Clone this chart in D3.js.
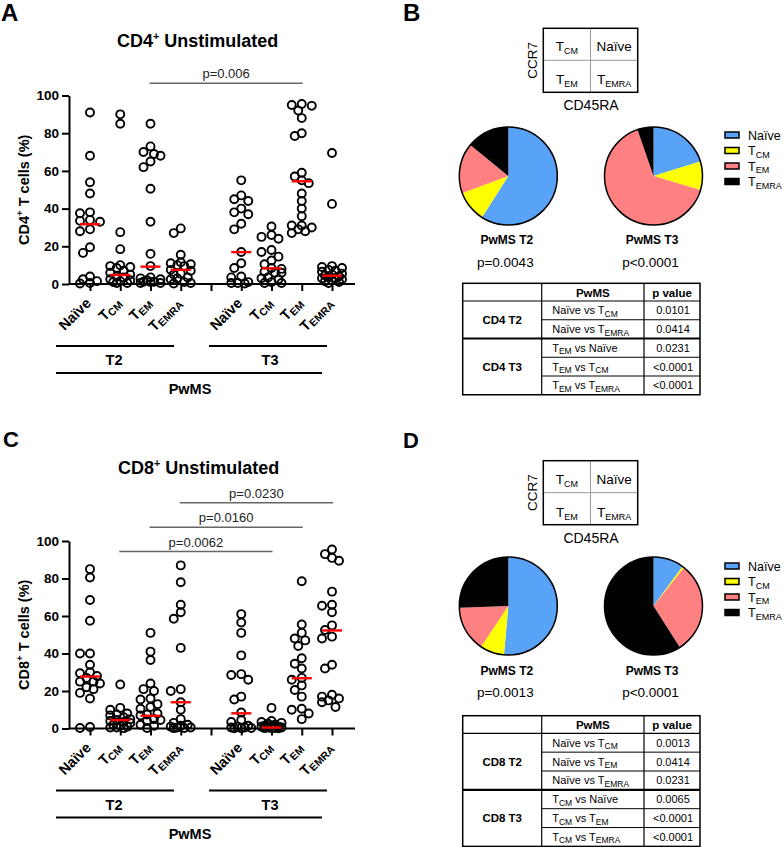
<!DOCTYPE html>
<html><head><meta charset="utf-8">
<script src="https://cdn.jsdelivr.net/npm/d3@7"></script>
<style>body{margin:0;background:#fff}svg{display:block}</style>
</head><body>
<svg id="fig" width="784" height="847"></svg>
<script>
// ---------------- DATA ----------------
const slotLabels = ["Naïve","T_CM","T_EM","T_EMRA","","Naïve","T_CM","T_EM","T_EMRA"];
const yTicks = [0,20,40,60,80,100];

const cd4T2Naive = [91, 68, 54, 48, 38, 37.5, 34, 33.5, 33, 29, 28, 19.5, 16.5, 4, 2.5, 1.5, 0.5, 0.3];
const cd4T2Tcm   = [90, 85, 27.5, 18.5, 10, 9.5, 9, 8.5, 7, 6, 5, 4, 3.5, 2.5, 2, 1.5, 1, 0.5, 0.5];
const cd4T2Tem   = [85, 73, 70, 69, 68, 65, 62, 50.5, 33, 16, 9.5, 3.5, 3, 2.5, 2, 1.2, 1.2, 1, 0.5, 0.5];
const cd4T2Temra = [29.5, 27, 15.5, 11.5, 11, 10.5, 10, 9.5, 7.5, 7, 5.5, 5, 3.5, 3, 2.5, 1, 0.5, 0.3];
const cd4T3Naive = [55, 47, 45, 44, 40, 38, 37, 32, 29, 17, 11, 8.5, 4, 3.5, 1, 0.5, 0.5, 0.3];
const cd4T3Tcm   = [30.5, 26, 25, 24, 18, 17, 14.5, 12.5, 10.5, 8.5, 8, 6.5, 6, 6, 3.5, 3, 2.5, 1, 0.5, 0.5];
const cd4T3Tem   = [95.5, 95, 94.5, 92, 88, 80, 78.5, 59, 57, 55, 53.5, 48, 44, 40, 36, 31, 31, 30, 29, 28, 27];
const cd4T3Temra = [69.5, 42.5, 9.5, 9, 8.5, 7.5, 7, 6.5, 5.5, 5, 4.5, 4, 3.5, 3, 3, 2.5, 2, 1.5, 1, 0.5];
const cd4Medians = [31.7, 4.8, 9.2, 7.5, null, 16.9, 8.3, 54.5, 4.4];

const cd8T2Naive = [85, 80.5, 68.5, 57.5, 40, 40, 34, 30, 29.5, 28, 27, 25, 25, 24, 22, 21, 19, 16, 0.8, 0.3];
const cd8T2Tcm   = [23.5, 11, 10, 8, 7.5, 7, 6, 5, 4.5, 4, 3.5, 3, 2, 1.5, 1, 0.5, 0.5, 0.2];
const cd8T2Tem   = [51, 41, 36.5, 24, 21, 20, 16, 15.5, 13, 11.5, 10.5, 8, 7.5, 7, 5, 4.5, 4, 2, 1.5, 0.3];
const cd8T2Temra = [87, 78, 66, 62, 58.5, 43, 21, 20, 14, 10, 5, 3, 2, 1.5, 1, 0.5, 0.5, 0.3, 0.2];
const cd8T3Naive = [61, 56.5, 51, 39, 29, 28.5, 26, 17, 15.5, 8.5, 4.5, 3.5, 1.5, 1, 0.5, 0.5, 0.3, 0.2, 0.1];
const cd8T3Tcm   = [11, 4, 3.5, 3, 2.5, 2, 1.5, 1.5, 1, 1, 0.5, 0.5, 0.3, 0.2, 0.2, 0.1];
const cd8T3Tem   = [78.5, 55.5, 51, 48, 47, 44, 37.5, 34.5, 32, 27, 26, 23, 20.5, 17, 10.5, 10, 8, 5];
const cd8T3Temra = [95.5, 93, 91, 89.5, 73, 66, 65.5, 62, 55, 52.5, 49, 48, 34, 32, 18, 17, 16, 15, 14, 11.5];
const cd8Medians = [27.7, 4.5, 6.8, 14, null, 8.1, 0.5, 26.8, 52.3];

const cd4Brackets = [{from:2, to:7, label:"p=0.006"}];
const cd8Brackets = [{from:3, to:8, label:"p=0.0230"},{from:2, to:7, label:"p=0.0160"},{from:1, to:6, label:"p=0.0062"}];

const subsets = ["Naïve","T_CM","T_EM","T_EMRA"];
const subsetColors = ["#58a2f7","#ffff00","#ff8080","#000000"];
const cd4PieT2 = [59, 10.4, 16.5, 14.1];
const cd4PieT3 = [20.2, 9.4, 65.1, 5.3];
const cd8PieT2 = [51.4, 8, 15, 25.6];
const cd8PieT3 = [10.1, 0.6, 30.3, 59];
const cd4PieP = ["p=0.0043","p<0.0001"];
const cd8PieP = ["p=0.0013","p<0.0001"];

const cd4T2Comp = [["Naïve vs T_CM","0.0101"],["Naïve vs T_EMRA","0.0414"]];
const cd4T3Comp = [["T_EM vs Naïve","0.0231"],["T_EM vs T_CM","<0.0001"],["T_EM vs T_EMRA","<0.0001"]];
const cd8T2Comp = [["Naïve vs T_CM","0.0013"],["Naïve vs T_EM","0.0414"],["Naïve vs T_EMRA","0.0231"]];
const cd8T3Comp = [["T_CM vs Naïve","0.0065"],["T_CM vs T_EM","<0.0001"],["T_CM vs T_EMRA","<0.0001"]];

// ---------------- HELPERS ----------------
const FONT = "'Liberation Sans', Arial, Helvetica, sans-serif";
const svg = d3.select("#fig").attr("font-family", FONT);

function rich(t, str, subSize, subDy){
  let cur = 0;
  str.split(/(T_[A-Z]+)/).filter(s=>s.length).forEach(p=>{
    const m = p.match(/^T_([A-Z]+)$/);
    if(m){
      t.append("tspan").attr("dy", -cur).text("T"); cur = 0;
      t.append("tspan").attr("dy", subDy - cur).attr("font-size", subSize).text(m[1]); cur = subDy;
    } else {
      t.append("tspan").attr("dy", -cur).text(p); cur = 0;
    }
  });
  return t;
}

function swarm(values, y, cx){
  const pts = values.map(v=>({v, y:y(v)})).sort((a,b)=>a.y-b.y);
  const placed = [];
  const cands = [0,-3.5,3.5,-7,7,-10,10];
  pts.forEach(p=>{
    let best = 0, bestD = -1;
    for(const dx of cands){
      let minD = Infinity;
      for(const q of placed){ const d = Math.hypot(q.dx-dx, q.y-p.y); if(d<minD) minD=d; }
      if(minD >= 7.5){ best = dx; bestD = minD; break; }
      if(minD > bestD){ bestD = minD; best = dx; }
    }
    p.dx = best; placed.push(p);
  });
  return pts.map(p=>({x:cx+p.dx, y:p.y}));
}

function scatterPanel(cfg){
  const g = svg.append("g");
  const x = d3.scalePoint().domain(d3.range(9)).range([90, 332]);
  const y = d3.scaleLinear().domain([0,100]).range([cfg.y0, cfg.y100]);

  // title
  const tt = g.append("text").attr("x", cfg.titleX).attr("y", cfg.titleY)
    .attr("font-size", cfg.titleSize).attr("font-weight","bold");
  tt.append("tspan").text(cfg.cd);
  tt.append("tspan").attr("dy",-7).attr("font-size", cfg.titleSize*0.6).text("+");
  tt.append("tspan").attr("dy",7).text(" Unstimulated");

  // y axis
  const ya = g.append("g").attr("transform","translate(69,0)")
    .call(d3.axisLeft(y).tickValues(yTicks).tickSize(7).tickPadding(3).tickSizeOuter(0));
  ya.select(".domain").attr("stroke-width",2);
  ya.selectAll(".tick line").attr("stroke-width",2);
  ya.selectAll(".tick text").attr("font-size",13.5).attr("font-weight","bold").attr("font-family",FONT).attr("fill","#000");

  // x axis
  const xa = g.append("g").attr("transform",`translate(0,${cfg.y0})`)
    .call(d3.axisBottom(x).tickSize(7).tickFormat("").tickSizeOuter(0));
  xa.select(".domain").attr("d", `M69,0H355`).attr("stroke-width",2);
  xa.selectAll(".tick line").attr("stroke-width",2);

  // x tick labels
  slotLabels.forEach((lab,i)=>{
    if(!lab) return;
    const t = g.append("text").attr("font-size",14.5).attr("font-weight","bold")
      .attr("text-anchor","end")
      .attr("transform",`translate(${x(i)+2},${cfg.y0+20}) rotate(-45)`);
    rich(t, lab, 10.5, 2);
  });

  // y label
  const yl = g.append("text").attr("font-size",14.5).attr("font-weight","bold").attr("text-anchor","middle")
    .attr("transform",`translate(28.5,${(cfg.y0+cfg.y100)/2}) rotate(-90)`);
  yl.append("tspan").text(cfg.cd);
  yl.append("tspan").attr("dy",-6).attr("font-size",9.5).text("+");
  yl.append("tspan").attr("dy",6).text(" T cells (%)");

  // group lines
  const gl = cfg.y0 + 62;
  [[56,174,112,"T2"],[209,327,268,"T3"]].forEach(([a,b,c,l])=>{
    g.append("line").attr("x1",a).attr("x2",b).attr("y1",gl).attr("y2",gl).attr("stroke","#000").attr("stroke-width",2);
    g.append("text").attr("x",c+2).attr("y",gl+19).attr("text-anchor","middle").attr("font-size",14.5).attr("font-weight","bold").text(l);
  });
  g.append("line").attr("x1",56).attr("x2",322).attr("y1",gl+27).attr("y2",gl+27).attr("stroke","#000").attr("stroke-width",2);
  g.append("text").attr("x",190).attr("y",gl+48).attr("text-anchor","middle").attr("font-size",14.5).attr("font-weight","bold").text("PwMS");

  // brackets
  cfg.brackets.forEach((b,k)=>{
    const yy = cfg.bracketY[k];
    const x1 = x(b.from)-1, x2 = x(b.to)+1;
    g.append("line").attr("x1",x1).attr("x2",x2).attr("y1",yy).attr("y2",yy).attr("stroke","#666").attr("stroke-width",1.5);
    g.append("text").attr("x",(x1+x2)/2).attr("y",yy-5).attr("text-anchor","middle").attr("font-size",13).attr("fill","#222").text(b.label);
  });

  // points
  cfg.groups.forEach((vals,i)=>{
    if(!vals) return;
    g.append("g").selectAll("circle").data(swarm(vals, y, x(i))).join("circle")
      .attr("cx",d=>d.x).attr("cy",d=>d.y).attr("r",4)
      .attr("fill","none").attr("stroke","#000").attr("stroke-width",1.9);
  });
  // medians
  cfg.medians.forEach((m,i)=>{
    if(m==null) return;
    g.append("line").attr("x1",x(i)-10).attr("x2",x(i)+10).attr("y1",y(m)).attr("y2",y(m))
      .attr("stroke","#ff0000").attr("stroke-width",2.4);
  });
}

function quadBox(top){
  const g = svg.append("g");
  const L=543.3, R=637.7, T=top, B=top+64, mx=(L+R)/2, my=(T+B)/2;
  g.append("line").attr("x1",mx).attr("x2",mx).attr("y1",T).attr("y2",B).attr("stroke","#999").attr("stroke-width",1);
  g.append("line").attr("x1",L).attr("x2",R).attr("y1",my).attr("y2",my).attr("stroke","#999").attr("stroke-width",1);
  g.append("rect").attr("x",L).attr("y",T).attr("width",R-L).attr("height",B-T).attr("fill","none").attr("stroke","#000").attr("stroke-width",1.5);
  [["T_CM",(L+mx)/2,T+23],["Naïve",(mx+R)/2,T+23],["T_EM",(L+mx)/2,T+56],["T_EMRA",(mx+R)/2,T+56]].forEach(([s,cx,cy])=>{
    const t = g.append("text").attr("x",cx).attr("y",cy).attr("text-anchor","middle").attr("font-size",13.5);
    rich(t, s, 9, 3);
  });
  g.append("text").attr("transform",`translate(537,${my}) rotate(-90)`).attr("text-anchor","middle").attr("font-size",13.5).text("CCR7");
  g.append("text").attr("x",591).attr("y",B+18).attr("text-anchor","middle").attr("font-size",14).text("CD45RA");
}

function pies(cy, dataArr, pLabels, labelY){
  const pie = d3.pie().sort(null).value(d=>d);
  [[508.3,dataArr[0],"PwMS T2",pLabels[0]],[653.5,dataArr[1],"PwMS T3",pLabels[1]]].forEach(([cx,vals,lab,pl])=>{
    const r = 49;
    const g = svg.append("g").attr("transform",`translate(${cx},${cy})`);
    const arc = d3.arc().innerRadius(0).outerRadius(r);
    g.selectAll("path").data(pie(vals)).join("path").attr("d",arc).attr("fill",(d,i)=>subsetColors[i]);
    g.append("circle").attr("r",r).attr("fill","none").attr("stroke","#000").attr("stroke-width",1.5);
    svg.append("text").attr("x",cx-1.5).attr("y",labelY).attr("text-anchor","middle").attr("font-size",12).attr("font-weight","bold").text(lab);
    svg.append("text").attr("x",cx-3).attr("y",labelY+22.5).attr("text-anchor","middle").attr("font-size",13.5).text(pl);
  });
}

function legend(top){
  const g = svg.append("g");
  subsets.forEach((s,i)=>{
    const yy = top + i*15.5;
    g.append("rect").attr("x",725).attr("y",yy-3).attr("width",14).attr("height",6)
      .attr("fill",subsetColors[i]).attr("stroke","#000").attr("stroke-width",1.5);
    const t = g.append("text").attr("x",748).attr("y",yy+4.5).attr("font-size",12.5);
    rich(t, s, 9, 2.5);
  });
}

function table(top, hdrH, rowH, groups){
  const g = svg.append("g");
  const X = [462.7,541.7,644,700];
  const total = groups.reduce((a,gp)=>a+gp.rows.length,0);
  const bottom = top + hdrH + total*rowH;
  g.append("text").attr("x",(X[1]+X[2])/2).attr("y",top+hdrH/2+4.5).attr("text-anchor","middle").attr("font-size",11.5).attr("font-weight","bold").text("PwMS");
  g.append("text").attr("x",(X[2]+X[3])/2).attr("y",top+hdrH/2+4.5).attr("text-anchor","middle").attr("font-size",11.5).attr("font-weight","bold").text("p value");
  let yy = top + hdrH;
  const lines = [];
  groups.forEach((gp,gi)=>{
    const gTop = yy;
    gp.rows.forEach((r,ri)=>{
      const cy = yy + rowH/2;
      const t = g.append("text").attr("x",X[1]+10.5).attr("y",cy+4).attr("font-size",11);
      rich(t, r[0], 8.5, 2.5);
      g.append("text").attr("x",(X[2]+X[3])/2+1).attr("y",cy+4).attr("text-anchor","middle").attr("font-size",11).text(r[1]);
      yy += rowH;
      if(ri < gp.rows.length-1) lines.push([X[1],X[3],yy,1]);
    });
    g.append("text").attr("x",(X[0]+X[1])/2).attr("y",(gTop+yy)/2+4).attr("text-anchor","middle").attr("font-size",11.5).attr("font-weight","bold").text(gp.label);
    if(gi < groups.length-1) lines.push([X[0],X[3],yy,2.2]);
  });
  lines.push([X[0],X[3],top+hdrH,1.2]);
  lines.forEach(([a,b,y,w])=>g.append("line").attr("x1",a).attr("x2",b).attr("y1",y).attr("y2",y).attr("stroke","#000").attr("stroke-width",w));
  [X[1],X[2]].forEach(xx=>g.append("line").attr("x1",xx).attr("x2",xx).attr("y1",top).attr("y2",bottom).attr("stroke","#000").attr("stroke-width",1.2));
  g.append("rect").attr("x",X[0]).attr("y",top).attr("width",X[3]-X[0]).attr("height",bottom-top).attr("fill","none").attr("stroke","#000").attr("stroke-width",1.5);
}

// ---------------- DRAW ----------------
svg.append("rect").attr("width",784).attr("height",847).attr("fill","#fff");

scatterPanel({cd:"CD4", y0:284, y100:95.5, titleX:117, titleY:47, titleSize:18,
  groups:[cd4T2Naive,cd4T2Tcm,cd4T2Tem,cd4T2Temra,null,cd4T3Naive,cd4T3Tcm,cd4T3Tem,cd4T3Temra],
  medians:cd4Medians, brackets:cd4Brackets, bracketY:[83.3]});
scatterPanel({cd:"CD8", y0:728.5, y100:541, titleX:118, titleY:474, titleSize:18,
  groups:[cd8T2Naive,cd8T2Tcm,cd8T2Tem,cd8T2Temra,null,cd8T3Naive,cd8T3Tcm,cd8T3Tem,cd8T3Temra],
  medians:cd8Medians, brackets:cd8Brackets, bracketY:[502.7,527.3,551.5]});

quadBox(28.3);
pies(176, [cd4PieT2, cd4PieT3], cd4PieP, 244);
legend(135);
table(283.3, 17.7, 18.75, [{label:"CD4 T2", rows:cd4T2Comp},{label:"CD4 T3", rows:cd4T3Comp}]);

quadBox(460.7);
pies(606, [cd8PieT2, cd8PieT3], cd8PieP, 674.5);
legend(566);
table(715.7, 17.6, 18.85, [{label:"CD8 T2", rows:cd8T2Comp},{label:"CD8 T3", rows:cd8T3Comp}]);

// panel letters
[["A",1,21,24],["B",403,21,24],["C",3,447,22],["D",403,448,22]].forEach(([l,x,y,s])=>
  svg.append("text").attr("x",x).attr("y",y).attr("font-size",s).attr("font-weight","bold").text(l));
</script>
</body></html>
